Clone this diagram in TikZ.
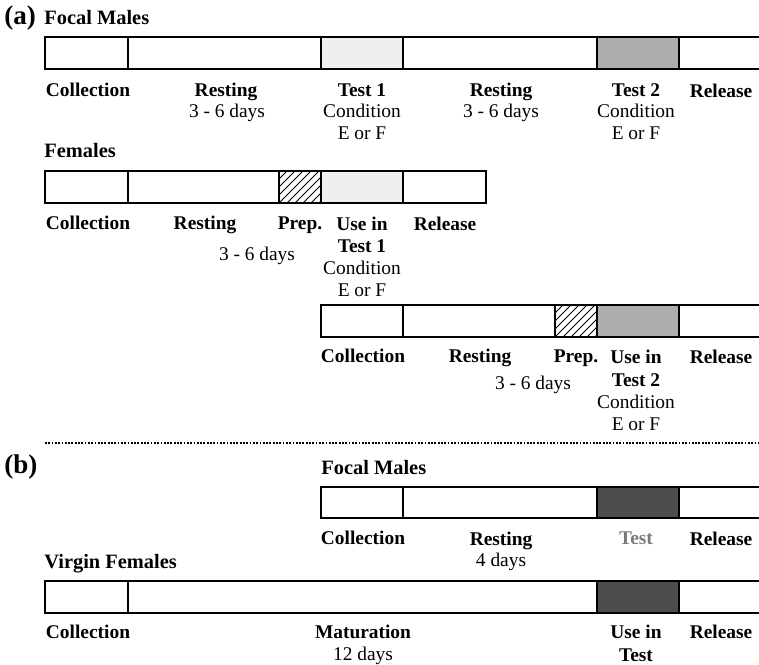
\documentclass[tikz,border=0pt]{standalone}
\usepackage{fontspec}
\setmainfont{Liberation Serif}
\definecolor{lightg}{HTML}{EFEFEF}
\definecolor{midg}{HTML}{ADADAD}
\definecolor{darkg}{HTML}{4D4D4D}
\definecolor{testtxt}{HTML}{7A7A7A}
\begin{document}
\begin{tikzpicture}[x=0.5pt,y=-0.5pt,
  font=\fontsize{9.7}{11}\selectfont,
  seg/.style={draw=black,line width=1pt,fill=white},
  hatchline/.style={line width=0.5pt},
  lb/.style={font=\fontsize{9.7}{11}\selectfont\bfseries,anchor=base,inner sep=0pt},
  lt/.style={anchor=base,inner sep=0pt},
  hd/.style={font=\fontsize{10.2}{12}\selectfont\bfseries,anchor=base west,inner sep=0pt},
  part/.style={font=\fontsize{13.5}{15}\selectfont\bfseries,anchor=base west,inner sep=0pt},
  sep/.style={line width=0.6pt,dash pattern=on 0.9pt off 0.75pt}]
\useasboundingbox (0,0) rectangle (759,664);
\clip (0,0) rectangle (759,664);
% ---------- (a) Focal males ----------
\node[part] (pa) at (4,25) {(a)};
\node[hd] (hfm) at (44,25) {Focal Males};
\draw[seg] (45,37) rectangle (128,69);
\draw[seg] (128,37) rectangle (321,69);
\draw[seg,fill=lightg] (321,37) rectangle (403,69);
\draw[seg] (403,37) rectangle (597,69);
\draw[seg,fill=midg] (597,37) rectangle (679,69);
\draw[seg] (679,37) rectangle (775,69);
\node[lb] (r1a) at (88,96) {Collection};
\node[lb] (r1b) at (226,96) {Resting};
\node[lt] (r1c) at (227,117) {3 - 6 days};
\node[lb] (r1d) at (362,96) {Test 1};
\node[lt] (r1e) at (362,117) {Condition};
\node[lt] (r1f) at (362,139) {E or F};
\node[lb] (r1g) at (501,96) {Resting};
\node[lt] (r1h) at (501,117) {3 - 6 days};
\node[lb] (r1i) at (636,96) {Test 2};
\node[lt] (r1j) at (636,117) {Condition};
\node[lt] (r1k) at (636,139) {E or F};
\node[lb] (r1l) at (721,97) {Release};
% ---------- Females (test 1) ----------
\node[hd] (hf) at (44,157) {Females};
\draw[seg] (45,171) rectangle (128,203);
\draw[seg] (128,171) rectangle (279,203);
\begin{scope}
  \clip (279,171) rectangle (321,203);
  \foreach \k in {0,...,10} \draw[hatchline] (247+\k*8,203) -- (279+\k*8,171);
\end{scope}
\draw[seg,fill=none] (279,171) rectangle (321,203);
\draw[seg,fill=lightg] (321,171) rectangle (403,203);
\draw[seg] (403,171) rectangle (486,203);
\node[lb] (r2a) at (88,229) {Collection};
\node[lb] (r2b) at (205,229) {Resting};
\node[lb] (r2c) at (300,229) {Prep.};
\node[lt] (r2d) at (257,260) {3 - 6 days};
\node[lb] (r2e) at (362,230) {Use in};
\node[lb] (r2f) at (362,252) {Test 1};
\node[lt] (r2g) at (362,274) {Condition};
\node[lt] (r2h) at (362,296) {E or F};
\node[lb] (r2i) at (445,230) {Release};
% ---------- Females (test 2) ----------
\draw[seg] (321,305) rectangle (403,337);
\draw[seg] (403,305) rectangle (555,337);
\begin{scope}
  \clip (555,305) rectangle (597,337);
  \foreach \k in {0,...,10} \draw[hatchline] (523+\k*8,337) -- (555+\k*8,305);
\end{scope}
\draw[seg,fill=none] (555,305) rectangle (597,337);
\draw[seg,fill=midg] (597,305) rectangle (679,337);
\draw[seg] (679,305) rectangle (775,337);
\node[lb] (r3a) at (363,362) {Collection};
\node[lb] (r3b) at (480,362) {Resting};
\node[lb] (r3c) at (576,362) {Prep.};
\node[lt] (r3d) at (533,389) {3 - 6 days};
\node[lb] (r3e) at (636,363) {Use in};
\node[lb] (r3f) at (636,386) {Test 2};
\node[lt] (r3g) at (636,408) {Condition};
\node[lt] (r3h) at (636,430) {E or F};
\node[lb] (r3i) at (721,363) {Release};
% ---------- separator ----------
\coordinate (s1) at (45,443);
\coordinate (s2) at (759,443);
\draw[sep] (s1) -- (s2);
% ---------- (b) ----------
\node[part] (pb) at (4,473) {(b)};
\node[hd] (hbm) at (321,474) {Focal Males};
\draw[seg] (321,487) rectangle (403,518);
\draw[seg] (403,487) rectangle (597,518);
\draw[seg,fill=darkg] (597,487) rectangle (679,518);
\draw[seg] (679,487) rectangle (775,518);
\node[lb] (r4a) at (363,544) {Collection};
\node[lb] (r4b) at (501,545) {Resting};
\node[lt] (r4c) at (501,566) {4 days};
\node[lb,text=testtxt] (r4d) at (636,544) {Test};
\node[lb] (r4e) at (721,545) {Release};
\node[hd] (hvf) at (44,568) {Virgin Females};
\draw[seg] (45,581) rectangle (128,613);
\draw[seg] (128,581) rectangle (597,613);
\draw[seg,fill=darkg] (597,581) rectangle (679,613);
\draw[seg] (679,581) rectangle (775,613);
\node[lb] (r5a) at (88,638) {Collection};
\node[lb] (r5b) at (363,638) {Maturation};
\node[lt] (r5c) at (363,660) {12 days};
\node[lb] (r5d) at (636,638) {Use in};
\node[lb] (r5e) at (636,661) {Test};
\node[lb] (r5f) at (721,638) {Release};
\end{tikzpicture}
\end{document}
